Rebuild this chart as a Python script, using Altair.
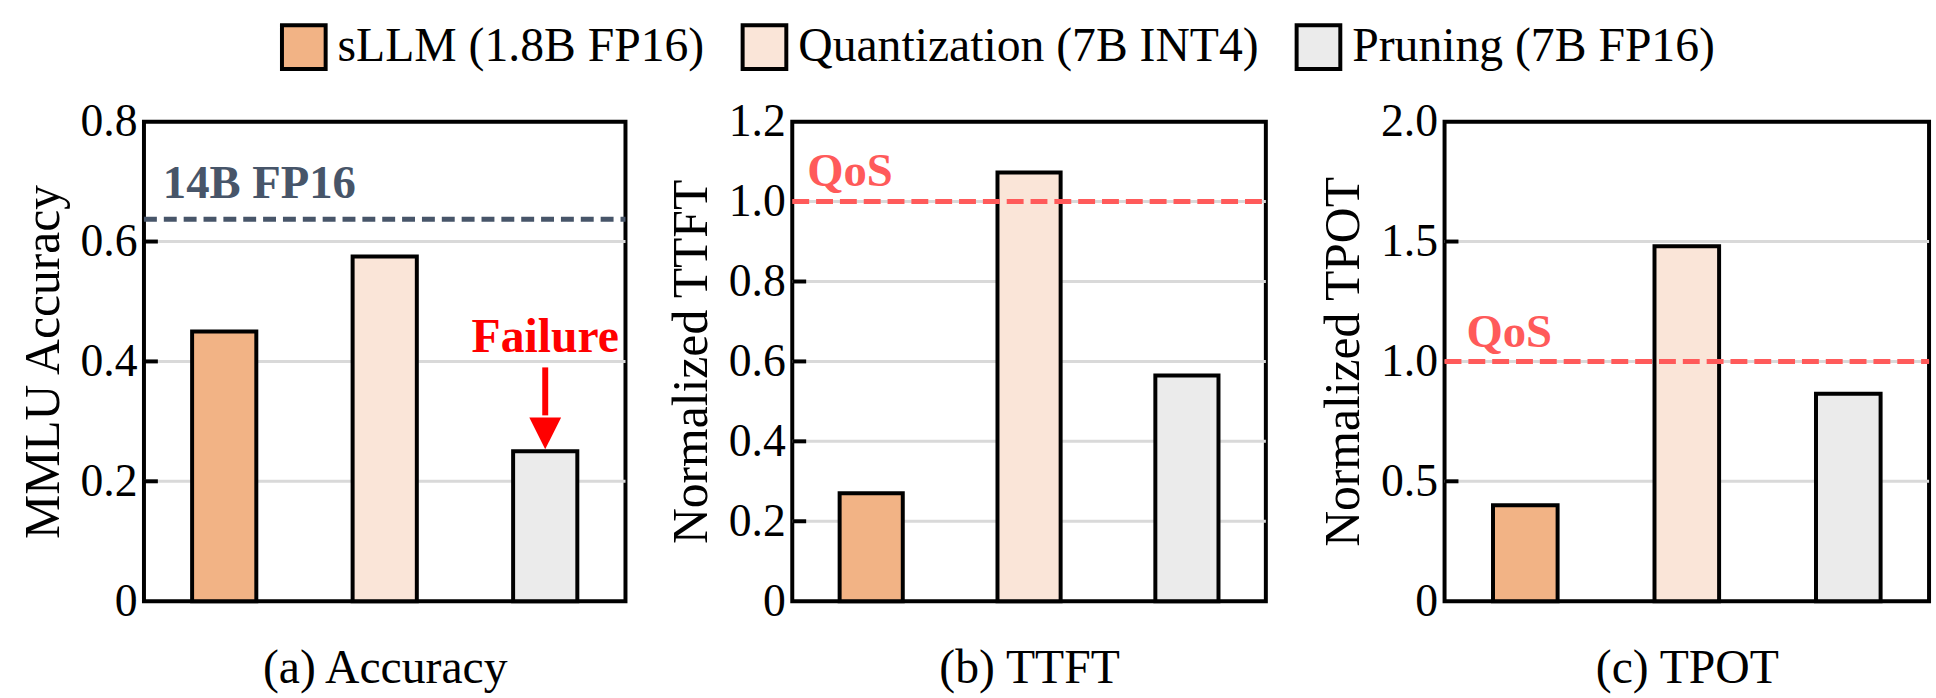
import altair as alt
import pandas as pd

# Methods compared and their fill colours
methods = ["sLLM (1.8B FP16)", "Quantization (7B INT4)", "Pruning (7B FP16)"]
method_colors = ["#F2B385", "#FAE5D8", "#EBEBEB"]

# Measured results per method
mmlu_accuracy = [0.45, 0.575, 0.25]
norm_ttft = [0.27, 1.073, 0.565]
norm_tpot = [0.40, 1.48, 0.865]

# Y-axis tick values per panel
acc_ticks = [0, 0.2, 0.4, 0.6, 0.8]
ttft_ticks = [0, 0.2, 0.4, 0.6, 0.8, 1.0, 1.2]
tpot_ticks = [0, 0.5, 1.0, 1.5, 2.0]

# Reference levels
fp16_14b_accuracy = 0.637
qos_limit = 1.0

SERIF = "Liberation Serif"
PLOT_H = 483
SLATE = "#475569"
QOS_RED = "#FF5A5A"

LABEL_EXPR = "datum.value == 0 ? '0' : format(datum.value, '.1f')"
X_SCALE = alt.Scale(domain=methods, paddingInner=0.6, paddingOuter=0.3)


def panel(values, ticks, ytitle, xtitle, width, show_legend):
    bars_df = pd.DataFrame({"method": methods, "value": values})
    inner_df = pd.DataFrame({"value": ticks[1:-1]})

    x_enc = alt.X(
        "method:N",
        sort=methods,
        scale=X_SCALE,
        axis=alt.Axis(
            title=xtitle, labels=False, ticks=False, tickSize=0, domain=False,
            titleFont=SERIF, titleFontSize=48, titleFontWeight="normal",
            titleColor="black", titlePadding=44,
        ),
    )
    y_scale = alt.Scale(domain=[ticks[0], ticks[-1]], nice=False, zero=True)
    y_enc = alt.Y(
        "value:Q",
        scale=y_scale,
        title=ytitle,
        axis=alt.Axis(
            values=ticks, title=ytitle, grid=False, ticks=False, tickSize=0,
            domain=False, labelExpr=LABEL_EXPR, labelFont=SERIF,
            labelFontSize=46, labelColor="black", labelPadding=7,
            titleFont=SERIF, titleFontSize=50, titleFontWeight="normal",
            titleColor="black", titlePadding=12,
        ),
    )
    y_plain = alt.Y("value:Q", scale=y_scale, title=ytitle)

    if show_legend:
        legend = alt.Legend(
            orient="none", legendX=137, legendY=-99, direction="horizontal",
            title=None, symbolType="square", symbolSize=1936,
            symbolStrokeColor="black", symbolStrokeWidth=4, symbolOpacity=1,
            labelFont=SERIF, labelFontSize=48, labelColor="black",
            labelOffset=10, columnPadding=30, labelLimit=0, padding=0,
        )
    else:
        legend = None

    grid = alt.Chart(inner_df).mark_rule(color="#D9D9D9", strokeWidth=3).encode(
        y=y_plain, x=alt.value(0), x2=alt.value(width)
    )
    bars = alt.Chart(bars_df).mark_bar(stroke="black", strokeWidth=4).encode(
        x=x_enc,
        y=y_enc,
        color=alt.Color(
            "method:N",
            scale=alt.Scale(domain=methods, range=method_colors),
            legend=legend,
        ),
    )
    inner_ticks = alt.Chart(inner_df).mark_rule(color="black", strokeWidth=4).encode(
        y=y_plain, x=alt.value(0), x2=alt.value(14)
    )
    return grid, bars, inner_ticks, y_plain


# (a) Accuracy
g, b, t, yp = panel(mmlu_accuracy, acc_ticks, "MMLU Accuracy", "(a) Accuracy", 485, True)
ref_a = pd.DataFrame({"value": [fp16_14b_accuracy]})
ref_line_a = alt.Chart(ref_a).mark_rule(color=SLATE, strokeWidth=5, strokeDash=[13, 7]).encode(
    y=yp, x=alt.value(0), x2=alt.value(485)
)
ref_text_a = alt.Chart(pd.DataFrame({"value": [0.672], "label": ["14B FP16"]})).mark_text(
    font=SERIF, fontSize=47, fontWeight="bold", color=SLATE, align="left", baseline="alphabetic"
).encode(y=yp, x=alt.value(19), text="label:N")

fail_x = alt.X("method:N", sort=methods, scale=X_SCALE, title="(a) Accuracy")
fail_text = alt.Chart(pd.DataFrame({"method": [methods[2]], "value": [0.416], "label": ["Failure"]})).mark_text(
    font=SERIF, fontSize=48, fontWeight="bold", color="#FF0000", align="center",
    baseline="alphabetic"
).encode(x=fail_x, y=yp, text="label:N")
fail_shaft = alt.Chart(pd.DataFrame({"method": [methods[2]], "value": [0.39], "end": [0.31]})).mark_rule(
    color="#FF0000", strokeWidth=6
).encode(x=fail_x, y=yp, y2="end:Q")
fail_head = alt.Chart(pd.DataFrame({"method": [methods[2]], "value": [0.28]})).mark_point(
    shape="M-1,-1L1,-1L0,1Z", filled=True, color="#FF0000", opacity=1, size=1024, strokeWidth=0
).encode(x=fail_x, y=yp)

chart_a = alt.layer(g, b, t, ref_line_a, ref_text_a, fail_shaft, fail_head, fail_text).properties(
    width=485, height=PLOT_H
)


def qos_layers(width, label_y, label_x, yp):
    line = alt.Chart(pd.DataFrame({"value": [qos_limit]})).mark_rule(
        color=QOS_RED, strokeWidth=5, strokeDash=[17, 7]
    ).encode(y=yp, x=alt.value(0), x2=alt.value(width))
    text = alt.Chart(pd.DataFrame({"value": [label_y], "label": ["QoS"]})).mark_text(
        font=SERIF, fontSize=47, fontWeight="bold", color=QOS_RED, align="left", baseline="alphabetic"
    ).encode(y=yp, x=alt.value(label_x), text="label:N")
    return line, text


# (b) TTFT
g, b, t, yp = panel(norm_ttft, ttft_ticks, "Normalized TTFT", "(b) TTFT", 477, False)
ql, qt = qos_layers(477, 1.04, 15, yp)
chart_b = alt.layer(g, b, t, ql, qt).properties(width=477, height=PLOT_H)

# (c) TPOT
g, b, t, yp = panel(norm_tpot, tpot_ticks, "Normalized TPOT", "(c) TPOT", 488, False)
ql, qt = qos_layers(488, 1.062, 22, yp)
chart_c = alt.layer(g, b, t, ql, qt).properties(width=488, height=PLOT_H)

chart = (
    alt.hconcat(alt.hconcat(chart_a, chart_b, spacing=34), chart_c, spacing=46)
    .properties(background="white", padding={"left": 16, "top": 21, "right": 2, "bottom": 2})
    .configure_view(stroke="black", strokeWidth=4)
)

chart.save("out.html", embed_options={"renderer": "svg", "actions": False})
